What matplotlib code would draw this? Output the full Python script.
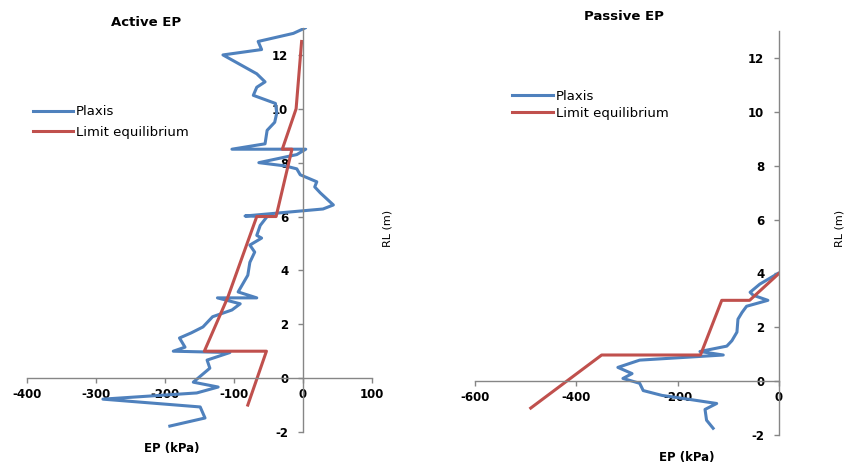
import matplotlib
matplotlib.use("Agg")
import matplotlib.pyplot as plt

plt.rcParams["axes.unicode_minus"] = False

# active side earth pressure (kPa) against reduced level (m)
active_plaxis_ep = [3, -14, -65, -60, -116, -67, -55, -67, -72, -40, -38, -41, -52, -55,
                    -103, 4, -9, -64, -26, -9, -4, 20, 17, 25, 44, 29, -84, -52, -62,
                    -67, -60, -77, -70, -77, -80, -94, -67, -124, -91, -103, -131, -145,
                    -162, -179, -171, -188, -106, -139, -135, -159, -123, -154, -290,
                    -149, -142, -193]
active_plaxis_rl = [13.0, 12.8, 12.5, 12.2, 12.0, 11.3, 11.0, 10.8, 10.5, 10.2, 9.85, 9.5,
                    9.2, 8.7, 8.5, 8.5, 8.3, 8.0, 7.88, 7.77, 7.55, 7.29, 7.1, 6.88, 6.43,
                    6.28, 6.02, 6.0, 5.67, 5.3, 5.2, 4.94, 4.68, 4.3, 3.82, 3.2, 2.98,
                    2.98, 2.76, 2.53, 2.28, 1.9, 1.68, 1.49, 1.15, 1.0, 0.95, 0.67, 0.37,
                    -0.15, -0.33, -0.55, -0.78, -1.07, -1.48, -1.78]
active_le_ep = [-2, -10, -30, -16, -39, -67, -109, -143, -53, -80]
active_le_rl = [12.5, 10.0, 8.5, 8.5, 6.0, 6.0, 3.0, 1.0, 1.0, -1.0]

# passive side
passive_plaxis_ep = [-2, -38, -57, -51, -22, -64, -73, -81, -83, -93, -103, -156, -110,
                     -275, -318, -290, -308, -275, -268, -231, -176, -123, -146, -143, -130]
passive_plaxis_rl = [4.0, 3.6, 3.3, 3.19, 3.0, 2.78, 2.55, 2.3, 1.82, 1.5, 1.3, 1.1, 0.97,
                     0.78, 0.51, 0.28, 0.1, -0.08, -0.35, -0.53, -0.68, -0.83, -1.05,
                     -1.45, -1.75]
passive_le_ep = [0, -58, -113, -155, -350, -490]
passive_le_rl = [4.0, 3.0, 3.0, 0.97, 0.97, -1.0]

blue = "#4F81BD"
red = "#C0504D"
grey = "#868686"

fig = plt.figure(figsize=(8.5, 4.65), dpi=100)
W, H = 850.0, 465.0


def px_axes(x0, x1, ytop, ybot):
    return fig.add_axes([x0 / W, 1 - ybot / H, (x1 - x0) / W, (ybot - ytop) / H])


def style(ax, xlim, xticks):
    ax.set_xlim(*xlim)
    ax.set_ylim(-2, 13)
    ax.set_xticks(xticks)
    ax.set_yticks([-2, 0, 2, 4, 6, 8, 10, 12])
    ax.spines["left"].set_position(("data", 0))
    ax.spines["bottom"].set_position(("data", 0))
    ax.spines["top"].set_visible(False)
    ax.spines["right"].set_visible(False)
    for s in ("left", "bottom"):
        ax.spines[s].set_color(grey)
        ax.spines[s].set_linewidth(1)
    ax.tick_params(axis="both", direction="out", length=3.6, width=1, color=grey,
                   labelsize=8.5)
    ax.tick_params(axis="y", pad=7)
    ax.tick_params(axis="x", pad=3.5)
    for lab in ax.get_xticklabels() + ax.get_yticklabels():
        lab.set_fontweight("bold")
    ax.patch.set_visible(False)


ax1 = px_axes(27, 372, 28, 432)
ax1.plot(active_plaxis_ep, active_plaxis_rl, color=blue, lw=2.2, label="Plaxis")
ax1.plot(active_le_ep, active_le_rl, color=red, lw=2.2, label="Limit equilibrium")
style(ax1, (-400, 100), [-400, -300, -200, -100, 0, 100])
ax1.legend(loc="center left", bbox_to_anchor=(33 / W, 1 - 122 / H),
           bbox_transform=fig.transFigure, frameon=False, fontsize=9.5,
           handlelength=3.0, handletextpad=0.25, labelspacing=0.55, borderpad=0,
           borderaxespad=0)

ax2 = px_axes(475, 779, 31, 435)
ax2.plot(passive_plaxis_ep, passive_plaxis_rl, color=blue, lw=2.2, label="Plaxis")
ax2.plot(passive_le_ep, passive_le_rl, color=red, lw=2.2, label="Limit equilibrium")
style(ax2, (-600, 0), [-600, -400, -200, 0])
ax2.legend(loc="center left", bbox_to_anchor=(512 / W, 1 - 105 / H),
           bbox_transform=fig.transFigure, frameon=False, fontsize=9.5,
           handlelength=3.1, handletextpad=0.25, labelspacing=0.3, borderpad=0,
           borderaxespad=0)

# titles and axis names
fig.text(146 / W, 1 - 23 / H, "Active EP", ha="center", va="center",
         fontsize=9.5, fontweight="bold")
fig.text(624 / W, 1 - 16 / H, "Passive EP", ha="center", va="center",
         fontsize=9.5, fontweight="bold")
fig.text(172 / W, 1 - 448 / H, "EP (kPa)", ha="center", va="center",
         fontsize=8.5, fontweight="bold")
fig.text(687 / W, 1 - 457 / H, "EP (kPa)", ha="center", va="center",
         fontsize=8.5, fontweight="bold")
fig.text(388 / W, 1 - 228 / H, "RL (m)", ha="center", va="center",
         fontsize=8, rotation=90)
fig.text(840 / W, 1 - 228 / H, "RL (m)", ha="center", va="center",
         fontsize=8, rotation=90)

plt.savefig("out.png", dpi=100)
